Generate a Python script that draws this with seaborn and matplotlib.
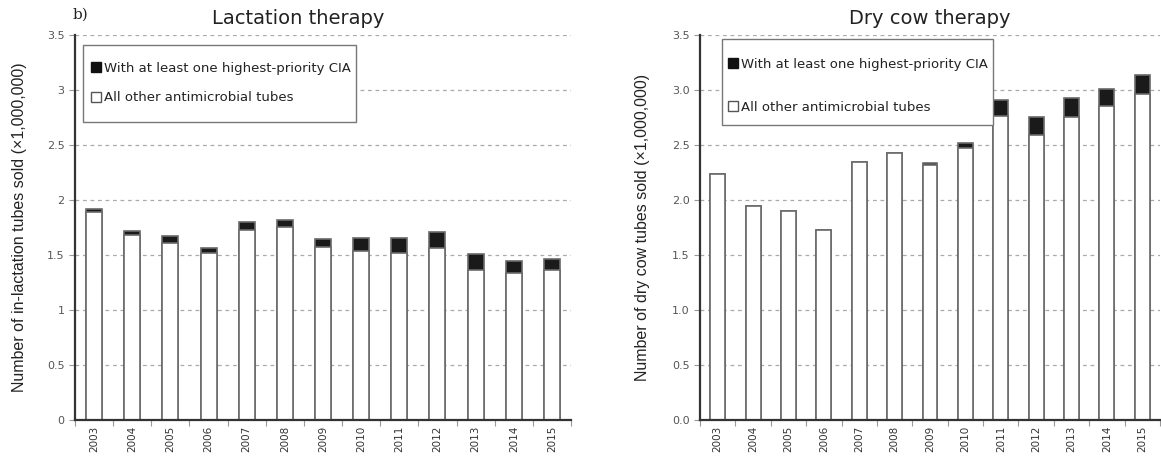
import matplotlib
matplotlib.use("Agg")
import matplotlib.pyplot as plt
import seaborn as sns
import pandas as pd
import numpy as np
from matplotlib.lines import Line2D
from matplotlib.patches import Rectangle
from matplotlib.ticker import FixedLocator, FuncFormatter

years = [str(y) for y in range(2003, 2016)]

# Lactation therapy (millions of tubes)
lact_total = [1.915, 1.718, 1.673, 1.567, 1.797, 1.821, 1.642, 1.658, 1.658, 1.709, 1.509, 1.448, 1.467]
lact_other = [1.890, 1.679, 1.609, 1.515, 1.730, 1.751, 1.570, 1.539, 1.521, 1.567, 1.364, 1.333, 1.364]

# Dry cow therapy (millions of tubes)
dry_total = [2.235, 1.946, 1.900, 1.726, 2.346, 2.428, 2.337, 2.521, 2.913, 2.756, 2.925, 3.012, 3.133]
dry_other = [2.235, 1.946, 1.900, 1.726, 2.346, 2.428, 2.319, 2.473, 2.762, 2.593, 2.753, 2.855, 2.964]

titles = ["Lactation therapy", "Dry cow therapy"]
ylabels = ["Number of in-lactation tubes sold (\u00d71,000,000)",
           "Number of dry cow tubes sold (\u00d71,000,000)"]
legend_labels = ["With at least one highest-priority CIA", "All other antimicrobial tubes"]

sns.set_style("white")
plt.rcParams['font.family'] = ['DejaVu Sans']

W, H = 1161, 459
fig = plt.figure(figsize=(W / 100, H / 100), dpi=100)
ax1 = fig.add_axes([75/W, 1-420/H, 496/W, 385/H])
ax2 = fig.add_axes([700/W, 1-420/H, 460/W, 385/H])

edge = "#6a6a6a"
datasets = [(lact_total, lact_other), (dry_total, dry_other)]
fmts = [lambda v, p: ("%g" % v), lambda v, p: ("%.1f" % v)]
# legend box (px): x0, y0, x1, y1 ; text anchor (px) ; label spacing
boxes = [(83, 45, 356, 122), (722, 39, 993, 125)]
anchors = [(92, 62), (729, 58)]
spacings = [1.25, 2.25]

for i, (ax, (tot, oth)) in enumerate(zip([ax1, ax2], datasets)):
    df = pd.DataFrame({"year": years, "total": tot, "other": oth})
    sns.barplot(data=df, x="year", y="total", color="#1a1a1a", edgecolor=edge,
                linewidth=1.2, width=0.42, ax=ax, saturation=1)
    sns.barplot(data=df, x="year", y="other", color="white", edgecolor=edge,
                linewidth=1.2, width=0.42, ax=ax, saturation=1)
    ax.set_xlim(-0.5, 12.5)
    ax.set_ylim(0, 3.5)
    ax.set_yticks(np.arange(0, 3.51, 0.5))
    ax.yaxis.set_major_formatter(FuncFormatter(fmts[i]))
    ax.grid(axis="y", linestyle=(0, (3, 3)), color="#aaaaaa", linewidth=0.9)
    ax.set_axisbelow(True)
    for s in ["top", "right"]:
        ax.spines[s].set_visible(False)
    for s in ["left", "bottom"]:
        ax.spines[s].set_color("#333333")
        ax.spines[s].set_linewidth(1.6)
    ax.tick_params(axis="y", length=4, width=0.8, color="#999999", labelsize=8,
                   labelcolor="#555555", direction="out", left=True)
    ax.tick_params(axis="x", which="major", length=0, labelsize=7.5,
                   labelcolor="#333333", rotation=90, pad=4)
    ax.xaxis.set_minor_locator(FixedLocator(np.arange(-0.5, 13, 1)))
    ax.tick_params(axis="x", which="minor", length=4, width=0.8, color="#999999",
                   direction="out", bottom=True)
    ax.set_xlabel("")
    ax.set_ylabel(ylabels[i], family=["Liberation Sans"], fontsize=11.5,
                  color="#222222", labelpad=16 if i == 1 else 14)

    # legend frame
    x0, y0, x1, y1 = boxes[i]
    rect = Rectangle((x0 / W, 1 - y1 / H), (x1 - x0) / W, (y1 - y0) / H,
                     transform=fig.transFigure, facecolor="white",
                     edgecolor="#777777", linewidth=1.0, zorder=4, clip_on=False)
    ax.add_patch(rect)

    handles = [Line2D([], [], marker="s", linestyle="none", markersize=7,
                      markerfacecolor="#111111", markeredgecolor="#111111"),
               Line2D([], [], marker="s", linestyle="none", markersize=7,
                      markerfacecolor="white", markeredgecolor="#555555")]
    ax_, ay_ = anchors[i]
    leg = ax.legend(handles, legend_labels, loc="upper left",
                    bbox_to_anchor=(ax_ / W, 1 - ay_ / H),
                    bbox_transform=fig.transFigure,
                    frameon=False, fontsize=9.5, labelspacing=spacings[i],
                    handlelength=0.6, handletextpad=0.3, borderpad=0,
                    borderaxespad=0)
    leg.set_zorder(6)
    for t in leg.get_texts():
        t.set_color("#222222")

ax1.set_title(titles[0], fontsize=14, color="#222222", x=0.45, pad=8)
ax2.set_title(titles[1], fontsize=14, color="#222222", pad=8)
fig.text(73/W, 1-15/H, "b)", family=["DejaVu Serif"], fontsize=11,
         va="center", ha="left", color="#222222")

fig.savefig("out.png", dpi=100)
